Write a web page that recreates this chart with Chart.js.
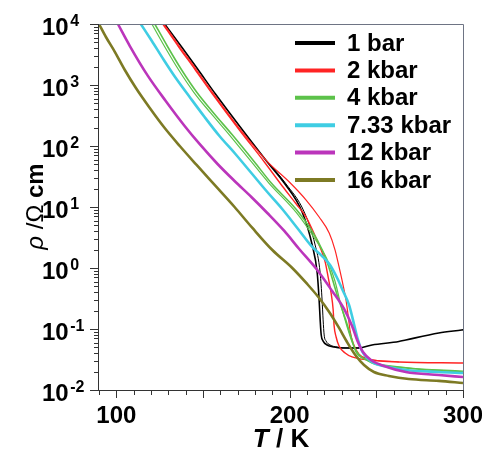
<!DOCTYPE html>
<html>
<head>
<meta charset="utf-8">
<script src="https://cdn.jsdelivr.net/npm/chart.js@4"></script>
<style>
  html, body { margin: 0; padding: 0; background: #fff; }
  #wrap { width: 482px; height: 452px; }
</style>
</head>
<body>
<div id="wrap"><canvas id="chart" width="482" height="452"></canvas></div>
<script>
// ====== Data ======
// 1 bar, two traces
const tBarA = [127.9, 137.7, 146.9, 157.2, 172.8, 187.1, 196.9, 207.2, 213.0, 215.9, 217.0, 217.6, 218.2, 219.3, 221.6, 225.6, 230.2, 240.0, 247.5, 263.0, 267.0, 286.0, 299.2, 300.0];
const rBarA = [10000, 4200, 1830, 711, 183, 54.7, 24.7, 8.28, 2.38, 0.828, 0.299, 0.141, 0.0798, 0.0635, 0.0547, 0.0507, 0.0489, 0.0489, 0.0547, 0.0624, 0.0661, 0.0859, 0.0963, 0.097];
const tBarB = [187.5, 197.5, 208.4, 214.7, 217.6, 218.7, 219.3, 219.9, 221.0, 223.3, 227.4, 232.0, 240.0];
const rBarB = [54.7, 24.7, 8.28, 2.38, 0.828, 0.299, 0.141, 0.0798, 0.0635, 0.0547, 0.0507, 0.0489, 0.0489];

// 2 kbar, two traces
const t2kA = [126.8, 136.0, 145.2, 155.5, 171.0, 185.4, 195.7, 203.8, 209.5, 214.7, 218.2, 220.5, 222.2, 223.9, 225.1, 225.6, 226.8, 228.5, 232.0, 236.0, 245.7, 263.0, 300.0];
const r2kA = [10000, 4200, 1830, 711, 183, 54.7, 22.1, 11.2, 6.85, 3.35, 1.97, 1.25, 0.711, 0.389, 0.205, 0.116, 0.074, 0.0526, 0.0404, 0.0348, 0.0310, 0.0288, 0.0277];
const t2kB = [127.4, 136.7, 145.9, 156.2, 171.7, 187.0, 199.8, 209.5, 217.0, 222.8, 226.2, 228.5, 230.8, 232.5, 233.7, 234.8, 236.6, 240.0, 245.7, 263.0];
const r2kB = [10000, 4200, 1830, 711, 183, 56.0, 25.7, 13.0, 6.85, 3.75, 1.97, 1.04, 0.526, 0.299, 0.170, 0.0963, 0.0589, 0.0389, 0.0322, 0.0288];

// 4 kbar, two traces
const t4kA = [122.2, 129.7, 137.7, 146.3, 156.1, 167.0, 179.7, 189.4, 205.5, 215.9, 221.6, 227.4, 232.0, 235.4, 238.3, 244.6, 247.5, 267.0, 300.0];
const r4kA = [10000, 4200, 1760, 767, 348, 151, 54.7, 24.7, 7.98, 2.88, 1.25, 0.361, 0.151, 0.074, 0.042, 0.031, 0.0277, 0.0230, 0.0197];
const t4kB = [120.5, 128.0, 136.0, 144.6, 154.4, 165.3, 178.0, 188.0, 204.0, 215.0, 221.5, 226.0, 229.5, 233.0, 236.5, 240.0, 246.0, 267.0, 300.0];
const r4kB = [10000, 4200, 1760, 767, 348, 151, 54.7, 24.7, 7.98, 2.88, 1.41, 0.63, 0.251, 0.112, 0.0562, 0.038, 0.0295, 0.0234, 0.0204];

// 7.33 kbar
const t733k = [114.1, 120.5, 127.4, 134.3, 142.3, 150.9, 159.5, 168.7, 177.9, 187.1, 195.7, 204.4, 213.0, 218.7, 223.3, 227.4, 230.8, 234.3, 237.1, 239.4, 241.7, 244.6, 248.6, 257.2, 267.0, 286.0, 300.0];
const r733k = [10000, 5260, 2570, 1300, 636, 299, 146, 74.0, 36.1, 17.6, 9.27, 4.53, 2.21, 1.57, 1.12, 0.686, 0.420, 0.247, 0.121, 0.0661, 0.0436, 0.0335, 0.0277, 0.0238, 0.0213, 0.0197, 0.0190];

// 12 kbar
const t12k = [100.9, 107.8, 118.2, 128.5, 139.4, 148.0, 158.4, 168.2, 177.9, 187.1, 196.9, 205.5, 215.9, 224.5, 231.4, 236.0, 239.4, 242.3, 246.9, 254.4, 267.0, 286.0, 300.0];
const r12k = [10000, 4350, 1410, 547, 213, 108, 50.7, 26.7, 14.6, 7.98, 4.05, 2.05, 0.927, 0.420, 0.213, 0.112, 0.0612, 0.042, 0.031, 0.0247, 0.0197, 0.0176, 0.0163];

// 16 kbar
const t16k = [90.0, 94.0, 99.2, 104.9, 111.3, 119.3, 127.9, 136.6, 146.3, 156.7, 168.2, 178.5, 190.0, 201.5, 210.1, 217.0, 222.8, 228.5, 233.1, 238.3, 242.9, 248.6, 257.2, 268.7, 286.0, 300.0];
const r16k = [10000, 6120, 3470, 1760, 893, 420, 197, 100, 48.9, 23.0, 10.0, 4.53, 1.97, 1.0, 0.547, 0.322, 0.190, 0.104, 0.0612, 0.0361, 0.0257, 0.0197, 0.0170, 0.0151, 0.0141, 0.0130];

const legendLabels = ['1 bar', '2 kbar', '4 kbar', '7.33 kbar', '12 kbar', '16 kbar'];
const seriesColors = ['#000000', '#ff2424', '#5cc24a', '#3fcde3', '#bb35bb', '#7d7a24'];

const xMajorTicks = [100, 150, 200, 250, 300];
const xMinorTicks = [90, 110, 120, 130, 140, 160, 170, 180, 190, 210, 220, 230, 240, 260, 270, 280, 290];
const xTickLabels = [100, 200, 300];
const yDecades = [-2, -1, 0, 1, 2, 3, 4];

// ====== Helpers ======
function pts(ts, rs) {
    return ts.map((t, i) => ({ x: t, y: rs[i] }));
}

function line(ts, rs, color, width) {
    return {
        data: pts(ts, rs),
        borderColor: color,
        borderWidth: width,
        pointRadius: 0,
        fill: false,
        cubicInterpolationMode: 'monotone'
    };
}

const FONT = '"Liberation Sans", Arial, Helvetica, sans-serif';

// ====== Axes, ticks, labels, legend ======
const decorPlugin = {
    id: 'decor',
    afterDraw(chart) {
        const { ctx, chartArea: a, scales: { x, y } } = chart;
        ctx.save();

        // frame
        ctx.lineWidth = 1;
        ctx.strokeStyle = '#6e7484';
        ctx.beginPath();
        ctx.moveTo(a.left, a.top + 0.5);
        ctx.lineTo(a.right + 0.5, a.top + 0.5);
        ctx.lineTo(a.right + 0.5, a.bottom);
        ctx.stroke();
        ctx.strokeStyle = '#333';
        ctx.beginPath();
        ctx.moveTo(a.left - 0.5, a.top);
        ctx.lineTo(a.left - 0.5, a.bottom + 0.5);
        ctx.lineTo(a.right + 0.5, a.bottom + 0.5);
        ctx.stroke();

        // x ticks
        ctx.beginPath();
        xMajorTicks.forEach(v => {
            const px = Math.round(x.getPixelForValue(v)) + 0.5;
            ctx.moveTo(px, a.bottom); ctx.lineTo(px, a.bottom + 8);
        });
        xMinorTicks.forEach(v => {
            const px = Math.round(x.getPixelForValue(v)) + 0.5;
            ctx.moveTo(px, a.bottom); ctx.lineTo(px, a.bottom + 5);
        });
        // y ticks
        yDecades.forEach(d => {
            const py = Math.round(y.getPixelForValue(Math.pow(10, d))) + 0.5;
            ctx.moveTo(a.left - 9, py); ctx.lineTo(a.left, py);
            if (d < 4) {
                for (let m = 2; m <= 9; m++) {
                    const pm = Math.round(y.getPixelForValue(m * Math.pow(10, d))) + 0.5;
                    ctx.moveTo(a.left - 5, pm); ctx.lineTo(a.left, pm);
                }
            }
        });
        ctx.stroke();

        // x tick labels
        ctx.fillStyle = '#000';
        ctx.font = 'bold 24px ' + FONT;
        ctx.textAlign = 'center';
        ctx.textBaseline = 'alphabetic';
        xTickLabels.forEach(v => {
            ctx.fillText(String(v), x.getPixelForValue(v), a.bottom + 33);
        });

        // y tick labels 10^n
        ctx.textAlign = 'left';
        yDecades.forEach(d => {
            const py = y.getPixelForValue(Math.pow(10, d));
            ctx.font = 'bold 24px ' + FONT;
            ctx.fillText('10', 42, py + 11);
            const w = ctx.measureText('10').width;
            ctx.font = 'bold 16px ' + FONT;
            ctx.fillText(d < 0 ? '-' + Math.abs(d) : String(d), 42 + w + 1.5, py + 1.5);
        });

        // x title: T / K
        ctx.font = 'italic bold 26px ' + FONT;
        const wT = ctx.measureText('T').width;
        ctx.font = 'bold 26px ' + FONT;
        const wRest = ctx.measureText(' / K').width;
        const sx = (a.left + a.right) / 2 - (wT + wRest) / 2;
        ctx.font = 'italic bold 26px ' + FONT;
        ctx.fillText('T', sx, 447);
        ctx.font = 'bold 26px ' + FONT;
        ctx.fillText(' / K', sx + wT, 447);

        // y title: rho / Omega cm
        ctx.save();
        ctx.translate(43, 206.5);
        ctx.rotate(-Math.PI / 2);
        const parts = [
            ['italic 24px ' + FONT, '\u03c1'],
            ['24px ' + FONT, ' /'],
            ['24px ' + FONT, '\u03a9'],
            ['bold 24px ' + FONT, ' cm']
        ];
        let total = 0;
        parts.forEach(p => { ctx.font = p[0]; total += ctx.measureText(p[1]).width; });
        let cx = -total / 2;
        parts.forEach(p => {
            ctx.font = p[0];
            ctx.fillText(p[1], cx, 0);
            cx += ctx.measureText(p[1]).width;
        });
        ctx.restore();

        // legend
        ctx.font = 'bold 24px ' + FONT;
        ctx.textBaseline = 'middle';
        legendLabels.forEach((lab, i) => {
            const ly = 43 + i * 27.4;
            ctx.strokeStyle = seriesColors[i];
            ctx.lineWidth = 4;
            ctx.beginPath();
            ctx.moveTo(295, ly); ctx.lineTo(335, ly);
            ctx.stroke();
            ctx.fillStyle = '#000';
            ctx.fillText(lab, 347, ly + 1);
        });

        ctx.restore();
    }
};

// ====== Chart ======
const datasets = [
    line(t16k, r16k, seriesColors[5], 2.6),
    line(t12k, r12k, seriesColors[4], 2.6),
    line(t733k, r733k, seriesColors[3], 2.6),
    line(t4kB, r4kB, seriesColors[2], 1.2),
    line(t4kA, r4kA, seriesColors[2], 1.6),
    line(t2kB, r2kB, seriesColors[1], 1.2),
    line(t2kA, r2kA, seriesColors[1], 1.4),
    line(tBarB, rBarB, seriesColors[0], 1.0),
    line(tBarA, rBarA, seriesColors[0], 1.6)
];

new Chart(document.getElementById('chart'), {
    type: 'line',
    data: { datasets },
    options: {
        responsive: false,
        animation: false,
        layout: { padding: { left: 99, right: 19, top: 24, bottom: 62 } },
        plugins: {
            legend: { display: false },
            tooltip: { enabled: false }
        },
        scales: {
            x: { type: 'linear', min: 90, max: 300, display: false },
            y: { type: 'logarithmic', min: 0.01, max: 10000, display: false }
        }
    },
    plugins: [decorPlugin]
});
</script>
</body>
</html>
